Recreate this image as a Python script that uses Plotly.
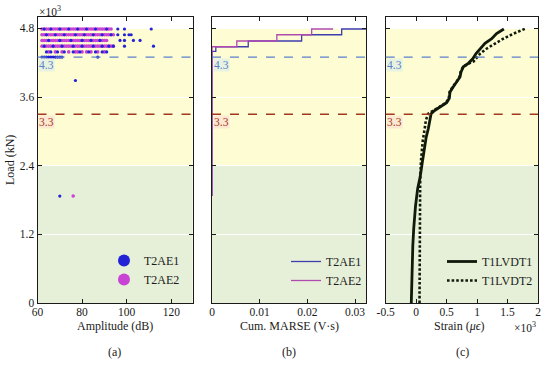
import plotly.graph_objects as go

FONT = "Liberation Serif"
INK = "#1a1a1a"

# ---------------- Panel (a): AE amplitude vs load (load x10^3 kN) ----------------
ae_levels = [4.79, 4.69, 4.59, 4.49, 4.39, 4.30, 3.89, 1.87]
ae1_amp_rows = [
    [63, 66, 70, 74, 78, 82, 86, 91, 96, 99, 111],
    [64, 68, 72, 77, 81, 85, 89, 93, 96, 99, 101, 102],
    [65, 70, 75, 80, 84, 88, 97, 99, 103, 106],
    [63, 67, 71, 76, 80, 85, 89, 92, 94, 99, 112],
    [64, 66, 69, 72, 76, 79, 83, 86, 89, 91],
    [62, 63, 64, 65, 66, 67, 68, 69, 70, 71, 87],
    [77],
    [70],
]
ae2_amp_rows = [
    [62, 63, 64, 65, 66, 67, 68, 69, 70, 71, 72, 73, 74, 75, 76, 77, 78, 79, 80, 81, 82, 83, 84, 85, 86, 87, 88, 89, 90, 91, 92, 93],
    [62, 63, 64, 65, 66, 67, 68, 69, 70, 71, 72, 73, 74, 75, 76, 77, 78, 79, 80, 81, 82, 83, 84, 85, 86, 87, 88, 89, 90, 91, 92, 93, 94],
    [62, 63, 64, 65, 66, 67, 68, 69, 70, 71, 72, 73, 74, 75, 76, 77, 78, 79, 80, 81, 82, 83, 84, 85, 86, 87, 88, 89, 90, 91],
    [62, 63, 64, 65, 66, 67, 68, 69, 70, 71, 72, 73, 74, 75, 76, 77, 78, 79, 80, 81, 82, 83, 84, 85, 86, 87, 88, 89, 90, 91, 92, 93, 94],
    [65, 68, 71, 74, 77, 78, 80, 82, 84, 87, 90],
    [],
    [],
    [76],
]

# ---------------- Panel (b): cumulative MARSE (V.s) vs load ----------------
marse1_x = [0, 0, 0.0008, 0.0076, 0.0188, 0.0272, 0.0324]
marse1_load = [1.87, 4.40, 4.48, 4.58, 4.69, 4.79, 4.79]
marse2_x = [0, 0, 0.0052, 0.0136, 0.0209, 0.0254]
marse2_load = [1.87, 4.48, 4.58, 4.69, 4.79, 4.79]

# ---------------- Panel (c): strain (x10^3 micro-strain) vs load ----------------
lvdt1_strain = [-0.08, -0.07, -0.055, -0.04, -0.01, 0.025, 0.065, 0.10, 0.13, 0.165, 0.20, 0.23, 0.245,
                0.31, 0.42, 0.50, 0.544, 0.556, 0.61, 0.676, 0.72, 0.737, 0.775, 0.856, 0.929, 0.983,
                1.05, 1.13, 1.24, 1.32, 1.44]
lvdt1_load = [0, 0.5, 1.0, 1.3, 1.7, 2.0, 2.2, 2.45, 2.7, 2.9, 3.05, 3.2, 3.31,
              3.37, 3.44, 3.50, 3.58, 3.69, 3.78, 3.87, 3.95, 4.04, 4.13, 4.19, 4.27, 4.36,
              4.45, 4.54, 4.62, 4.71, 4.79]
lvdt2_strain = [0.055, 0.055, 0.066, 0.08, 0.11, 0.145, 0.16, 0.20, 0.27, 0.40, 0.49, 0.535, 0.55,
                0.60, 0.665, 0.71, 0.73, 0.77, 0.87, 0.94, 0.995, 1.05, 1.16, 1.30, 1.43, 1.60, 1.80]
lvdt2_load = [0, 1.2, 2.15, 2.5, 2.85, 3.08, 3.2, 3.31, 3.36, 3.44, 3.50, 3.58, 3.69,
              3.78, 3.87, 3.95, 4.04, 4.13, 4.19, 4.22, 4.29, 4.36, 4.45, 4.54, 4.62, 4.71, 4.80]

# axis ticks / labels
load_ticks = [0, 1.2, 2.4, 3.6, 4.8]
load_ticktext = ["0", "1.2", "2.4", "3.6", "4.8"]
amp_ticks = [60, 80, 100, 120]
marse_ticks = [0, 0.01, 0.02, 0.03]
marse_ticktext = ["0", "0.01", "0.02", "0.03"]
strain_ticks = [-0.5, 0, 0.5, 1, 1.5, 2]
strain_ticktext = ["-0.5", "0", "0.5", "1", "1.5", "2"]
threshold_levels = [4.3, 3.3]
threshold_labels = ["4.3", "3.3"]
band_edges = [0, 2.4, 4.8]

BLUE_PT = "#2323d6"
MAG_PT = "#c843d4"
BLUE_LN = "#3d3db0"
MAG_LN = "#b04ab0"
YELLOW = "#fdfcd2"
GREEN = "#e6f0d8"
TH_COLORS = ["#5a80cc", "#a3371f"]
TH_BG = ["rgba(225,240,228,0.8)", "rgba(252,228,210,0.8)"]

W, H = 550, 365
def px_x(p):
    return p / W
def px_y(p):
    return 1 - p / H

top, bottom = 17, 303
dom_y = [px_y(bottom), px_y(top)]
dom_a = [px_x(37.5), px_x(192.5)]
dom_b = [px_x(212), px_x(366)]
dom_c = [px_x(385.7), px_x(538)]

fig = go.Figure()

# panel a scatter
ae1_x, ae1_y, ae2_x, ae2_y = [], [], [], []
for lv, row in zip(ae_levels, ae1_amp_rows):
    ae1_x += row
    ae1_y += [lv] * len(row)
for lv, row in zip(ae_levels, ae2_amp_rows):
    ae2_x += row
    ae2_y += [lv] * len(row)

fig.add_trace(go.Scatter(x=ae2_x, y=ae2_y, mode="markers", name="T2AE2",
                         marker=dict(color=MAG_PT, size=3.6, line=dict(width=0)),
                         xaxis="x", yaxis="y", legend="legend", legendrank=2))
fig.add_trace(go.Scatter(x=ae1_x, y=ae1_y, mode="markers", name="T2AE1",
                         marker=dict(color=BLUE_PT, size=3.2, line=dict(width=0)),
                         xaxis="x", yaxis="y", legend="legend", legendrank=1))

# panel b steps
fig.add_trace(go.Scatter(x=marse1_x, y=marse1_load, mode="lines", name="T2AE1",
                         line=dict(color=BLUE_LN, width=1.3, shape="hv"),
                         xaxis="x2", yaxis="y2", legend="legend2"))
fig.add_trace(go.Scatter(x=marse2_x, y=marse2_load, mode="lines", name="T2AE2",
                         line=dict(color=MAG_LN, width=1.3, shape="hv"),
                         xaxis="x2", yaxis="y2", legend="legend2"))

# panel c strain
fig.add_trace(go.Scatter(x=lvdt1_strain, y=lvdt1_load, mode="lines", name="T1LVDT1",
                         line=dict(color="#0f1a0a", width=2.8),
                         xaxis="x3", yaxis="y3", legend="legend3"))
fig.add_trace(go.Scatter(x=lvdt2_strain, y=lvdt2_load, mode="lines", name="T1LVDT2",
                         line=dict(color="#0f1a0a", width=2.6, dash="2.6px,2px"),
                         xaxis="x3", yaxis="y3", legend="legend3"))

tickfont = dict(family=FONT, size=11.5, color=INK)
axis_common = dict(showline=True, linecolor=INK, linewidth=1, mirror="ticks",
                   ticks="inside", ticklen=4, tickcolor=INK, tickwidth=1,
                   zeroline=False, tickfont=tickfont, automargin=False)
xaxis_common = dict(axis_common, showgrid=False, ticklabelstandoff=-2)
yaxis_common = dict(axis_common, range=[0, 5.0], tickvals=load_ticks, ticktext=load_ticktext,
                    showgrid=True, gridcolor="white", gridwidth=1.3, domain=dom_y)

shapes = []
annotations = []
for i, (xa, ya, dom) in enumerate([("x", "y", dom_a), ("x2", "y2", dom_b), ("x3", "y3", dom_c)]):
    cols = [GREEN, YELLOW]
    for k in range(2):
        shapes.append(dict(type="rect", xref=f"{xa} domain", yref=ya, x0=0, x1=1,
                           y0=band_edges[k], y1=band_edges[k + 1], fillcolor=cols[k],
                           line=dict(width=0), layer="below"))
    for lv, lab, c, bg in zip(threshold_levels, threshold_labels, TH_COLORS, TH_BG):
        shapes.append(dict(type="line", xref=f"{xa} domain", yref=ya, x0=0, x1=1, y0=lv, y1=lv,
                           line=dict(color=c, width=1.3, dash="dash"), layer="above"))
        annotations.append(dict(xref=f"{xa} domain", yref=ya, x=0.005, y=lv, text=lab,
                                showarrow=False, xanchor="left", yanchor="top", yshift=-1,
                                bgcolor=bg, borderpad=0,
                                font=dict(family=FONT, size=11.5, color=c)))

# subplot captions and extra labels
for txt, xc in zip(["(a)", "(b)", "(c)"], [115, 289, 462]):
    annotations.append(dict(xref="paper", yref="paper", x=px_x(xc), y=px_y(352), text=txt,
                            showarrow=False, xanchor="center", yanchor="middle",
                            font=dict(family=FONT, size=12, color=INK)))
annotations.append(dict(xref="paper", yref="paper", x=px_x(37), y=px_y(11),
                        text="×10<sup>3</sup>", showarrow=False, xanchor="left", yanchor="middle",
                        font=dict(family=FONT, size=11.5, color=INK)))
annotations.append(dict(xref="paper", yref="paper", x=px_x(512), y=px_y(327),
                        text="×10<sup>3</sup>", showarrow=False, xanchor="left", yanchor="middle",
                        font=dict(family=FONT, size=11.5, color=INK)))
annotations.append(dict(xref="paper", yref="paper", x=px_x(10), y=px_y(160),
                        text="Load (kN)", textangle=-90, showarrow=False,
                        xanchor="center", yanchor="middle",
                        font=dict(family=FONT, size=12, color=INK)))
for txt, xc in zip(["Amplitude (dB)", "Cum. MARSE (V·s)", "Strain (<i>μϵ</i>)"], [115, 289, 460]):
    annotations.append(dict(xref="paper", yref="paper", x=px_x(xc), y=px_y(325.5), text=txt,
                            showarrow=False, xanchor="center", yanchor="middle",
                            font=dict(family=FONT, size=12, color=INK)))

legend_common = dict(bgcolor="rgba(0,0,0,0)", borderwidth=0, xanchor="left", yanchor="top",
                     font=dict(family=FONT, size=12, color=INK), tracegroupgap=0)

fig.update_layout(
    width=W, height=H,
    margin=dict(l=0, r=0, t=0, b=0, autoexpand=False),
    paper_bgcolor="white", plot_bgcolor="white",
    font=dict(family=FONT, size=12, color=INK),
    xaxis=dict(xaxis_common, domain=dom_a, range=[60, 129.5], tickvals=amp_ticks, anchor="y"),
    yaxis=dict(yaxis_common, anchor="x"),
    xaxis2=dict(xaxis_common, domain=dom_b, range=[0, 0.0323], tickvals=marse_ticks,
                ticktext=marse_ticktext, anchor="y2"),
    yaxis2=dict(yaxis_common, anchor="x2", showticklabels=False),
    xaxis3=dict(xaxis_common, domain=dom_c, range=[-0.5, 2], tickvals=strain_ticks,
                ticktext=strain_ticktext, anchor="y3"),
    yaxis3=dict(yaxis_common, anchor="x3", showticklabels=False),
    shapes=shapes,
    annotations=annotations,
    legend=dict(legend_common, x=px_x(104), y=px_y(246), itemsizing="constant"),
    legend2=dict(legend_common, x=px_x(286), y=px_y(247)),
    legend3=dict(legend_common, x=px_x(442), y=px_y(247)),
    showlegend=True,
)

fig.write_html("out.html", config={"displayModeBar": False},
               post_script="document.body.style.margin='0';document.body.style.overflow='hidden';")
